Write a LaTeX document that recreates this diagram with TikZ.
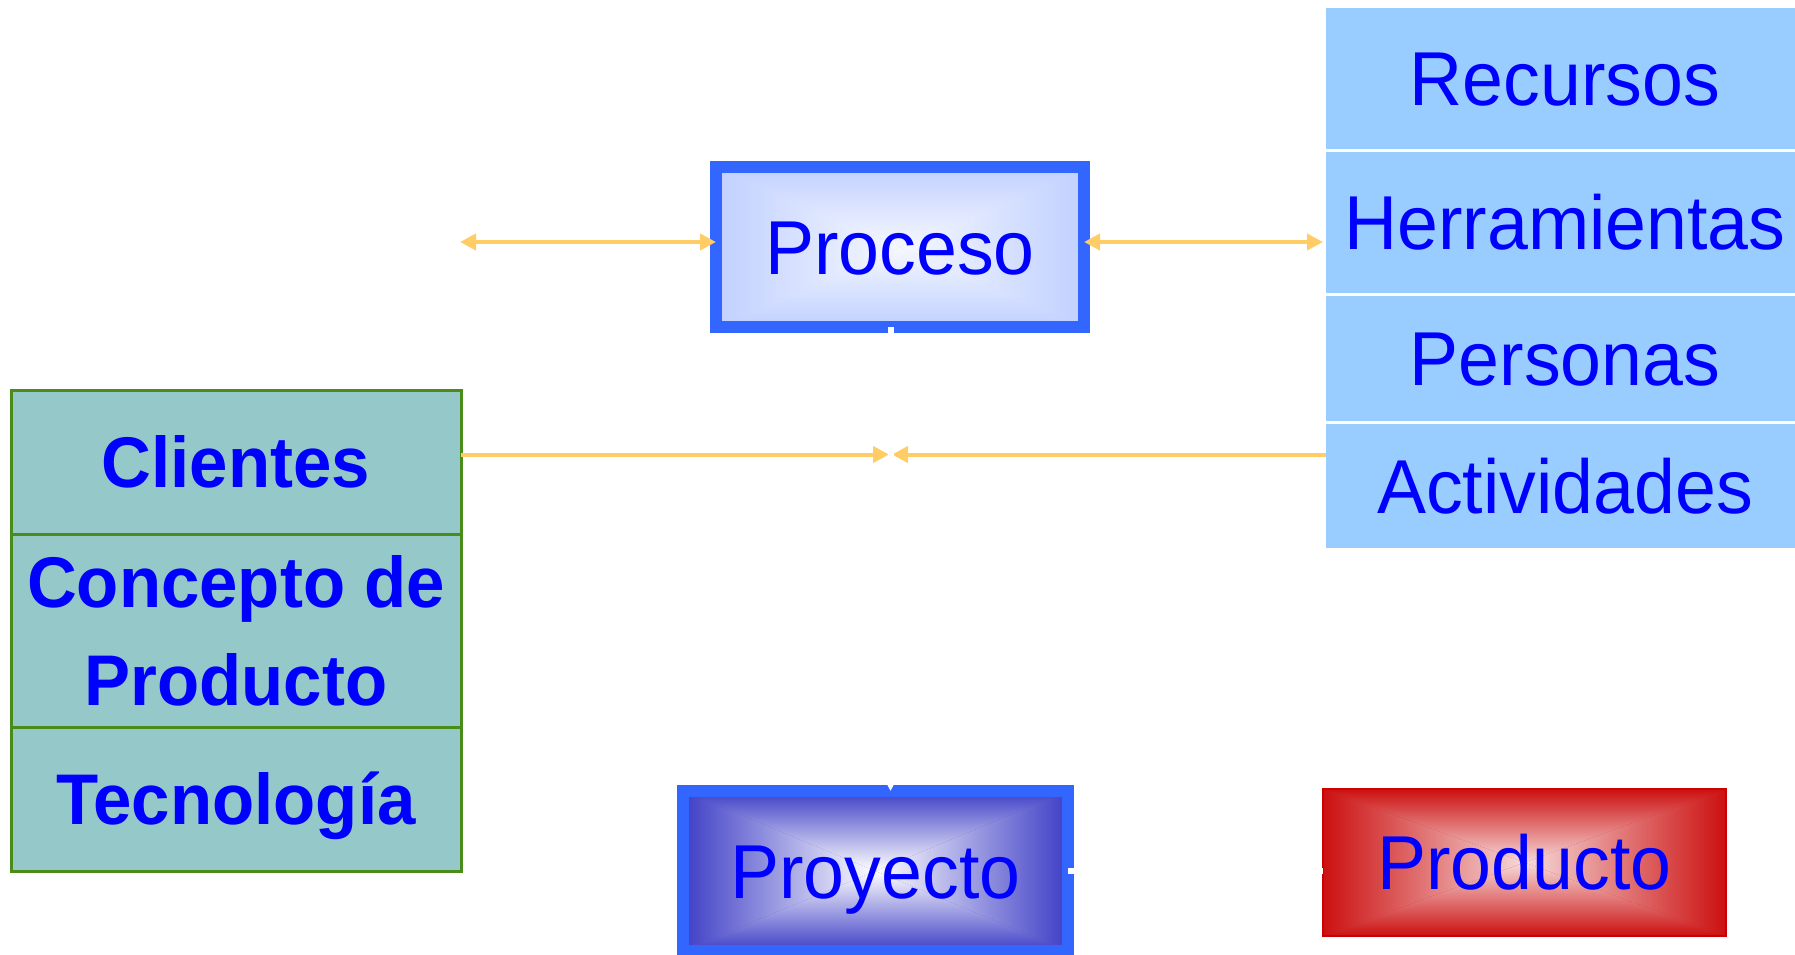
\documentclass[tikz,border=0pt]{standalone}
\usepackage{fontspec}
\setmainfont{Liberation Sans}
\usetikzlibrary{arrows.meta}
\definecolor{arrowc}{HTML}{FFCC66}
\definecolor{procborder}{HTML}{3366FF}
\definecolor{procout}{HTML}{C0D0FF}
\definecolor{procin}{HTML}{F6F8FF}
\definecolor{proyout}{HTML}{3E3EC6}
\definecolor{proyin}{HTML}{FFFFFF}
\definecolor{prodout}{HTML}{CC1010}
\definecolor{prodin}{HTML}{F6DADA}
\definecolor{prodborder}{HTML}{CC0000}
\definecolor{rfill}{HTML}{99CCFF}
\definecolor{lfill}{HTML}{95C9C9}
\definecolor{lborder}{HTML}{4A8C1A}
\definecolor{tblue}{HTML}{0000FF}
\newcommand\vstr[1]{\scalebox{1}[1.04]{#1}}
\tikzset{
  rgrad/.style 2 args={fill=#1, path picture={
    \coordinate (pA) at (path picture bounding box.north west);
    \coordinate (pB) at (path picture bounding box.north east);
    \coordinate (pC) at (path picture bounding box.south east);
    \coordinate (pD) at (path picture bounding box.south west);
    \coordinate (pM) at (path picture bounding box.center);
    \begin{scope}\clip (pA)--(pB)--(pM)--cycle; \shade[top color=#1,bottom color=#2] (pA) rectangle (pM -| pB);\end{scope}
    \begin{scope}\clip (pD)--(pC)--(pM)--cycle; \shade[top color=#2,bottom color=#1] (pM -| pD) rectangle (pC);\end{scope}
    \begin{scope}\clip (pA)--(pD)--(pM)--cycle; \shade[left color=#1,right color=#2] (pA) rectangle (pM |- pD);\end{scope}
    \begin{scope}\clip (pB)--(pC)--(pM)--cycle; \shade[left color=#2,right color=#1] (pM |- pB) rectangle (pC);\end{scope}
  }},
  bigtext/.style={font=\fontsize{73.5}{88}\selectfont, text=tblue, text height=54.7pt, text depth=0pt, inner sep=0pt, outer sep=0pt},
  rcell/.style={bigtext, fill=rfill, minimum width=478pt},
  lcell/.style={font=\fontsize{69}{98}\selectfont\bfseries, text=tblue, fill=lfill, draw=lborder, line width=3pt, minimum width=450pt, inner sep=0pt, outer sep=0pt},
  mainbox/.style={bigtext, draw=procborder, line width=12pt},
  conn/.style={draw=arrowc, line width=4pt},
  wconn/.style={draw=white, line width=6pt},
  >={Triangle[length=16pt,width=16pt]}
}
\begin{document}
\begin{tikzpicture}[x=1pt,y=-1pt]
\useasboundingbox (0,0) rectangle (1795,954);
% right column
\node[rcell, minimum height=141pt] (rec) at (1565,78.5) {\vstr{Recursos}};
\node[rcell, minimum height=141pt] (herr) at (1565,222.5) {\vstr{Herramientas}};
\node[rcell, minimum height=125pt] (pers) at (1565,358.5) {\vstr{Personas}};
\node[rcell, minimum height=124pt] (act) at (1565,486) {\vstr{Actividades}};
% left column
\node[lcell, minimum height=144pt, text height=51.4pt, text depth=0pt] (cli) at (236,462) {\vstr{Clientes}};
\node[lcell, minimum height=193pt, align=center] (conc) at (236,630.5) {\vstr{Concepto de}\\\vstr{Producto}};
\node[lcell, minimum height=144pt, text height=51.4pt, text depth=0pt] (tec) at (236,799) {\vstr{Tecnología}};
% central boxes
\node[mainbox, rgrad={procout}{procin}, minimum width=368pt, minimum height=160pt] (proceso) at (900,247) {\vstr{Proceso}};
\node[mainbox, rgrad={proyout}{proyin}, minimum width=385pt, minimum height=160pt] (proyecto) at (875.5,871) {\vstr{Proyecto}};
\node[bigtext, draw=prodborder, line width=2.5pt, rgrad={prodout}{prodin}, minimum width=403pt, minimum height=147pt] (producto) at (1524.5,862.5) {\vstr{Producto}};
% connectors
\coordinate (tl) at (460,242);
\coordinate (mid) at (890.5,454.5);
\draw[conn,<->] (tl) -- (tl -| proceso.west);
\draw[conn,<->,shorten >=3pt] (proceso.east |- tl) -- (herr.west |- tl);
\draw[conn,->,shorten >=1.5pt] (mid -| cli.east) -- (mid);
\draw[conn,->,shorten >=1.5pt] (mid -| act.west) -- (mid);
\draw[wconn,->] (mid |- proceso.south) -- (mid |- proyecto.north);
\draw[wconn] (proyecto.east) -- (proyecto.east -| producto.west);
\end{tikzpicture}
\end{document}
